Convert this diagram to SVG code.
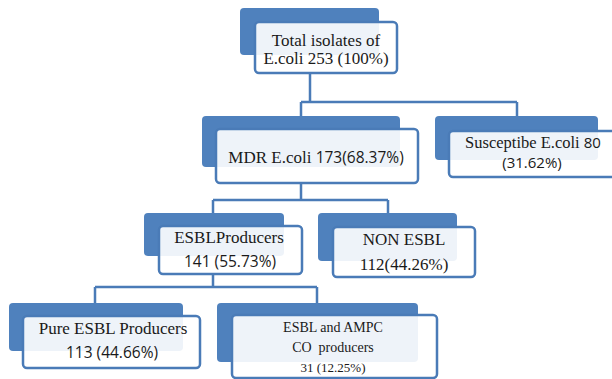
<svg xmlns="http://www.w3.org/2000/svg" width="612" height="379" viewBox="0 0 612 379">
<style>
.back{fill:#4f81bd}
.front{fill:#ffffff;fill-opacity:0.9;stroke:#4a7bb7;stroke-width:2.5}
.conn{fill:none;stroke:#4a7bb7;stroke-width:2.5}
.t{font-family:"Liberation Serif","Times New Roman",serif;fill:#1a1a1a;text-anchor:middle}
.c{font-family:"Open Sans","Liberation Sans",sans-serif;fill:#1a1a1a}
</style>
<rect width="612" height="379" fill="#ffffff"/>
<g id="connectors">
<path class="conn" d="M310,73 V102 M301,102 H517 M301,102 V116 M517,102 V116"/>
<path class="conn" d="M301,183 V200 M213,200 H388 M213,200 V213 M388,200 V213"/>
<path class="conn" d="M213,274 V287 M95,287 H317 M95,287 V303 M317,287 V303"/>
</g>
<g id="total">
<rect class="back" x="240" y="8" width="139" height="47" rx="4"/>
<rect class="front" x="255" y="22" width="142" height="51" rx="4"/>
<text class="t" x="326" y="46" font-size="17">Total isolates of</text>
<text class="t" x="326" y="64" font-size="17">E.coli 253 (100%)</text>
</g>
<g id="mdr">
<rect class="back" x="202" y="116" width="198" height="51" rx="4"/>
<rect class="front" x="216" y="129" width="202" height="54" rx="4"/>
<text class="t" x="316" y="163" font-size="17">MDR E.coli <tspan class="c" font-size="15.5">173(68.37%)</tspan></text>
</g>
<g id="susceptible">
<rect class="back" x="435" y="116" width="163" height="44" rx="4"/>
<rect class="front" x="449" y="131" width="170" height="46" rx="4"/>
<text class="t" x="533" y="148" font-size="16.5">Susceptibe E.coli <tspan class="c" font-size="15">80</tspan></text>
<text class="c" x="532" y="168" font-size="15" text-anchor="middle">(31.62%)</text>
</g>
<g id="esbl">
<rect class="back" x="144" y="213" width="140" height="43" rx="4"/>
<rect class="front" x="159" y="226" width="143" height="48" rx="4"/>
<text class="t" x="229" y="243" font-size="17">ESBLProducers</text>
<text class="c" x="230" y="267" font-size="15.5" text-anchor="middle">141 (55.73%)</text>
</g>
<g id="nonesbl">
<rect class="back" x="318" y="213" width="139" height="48" rx="4"/>
<rect class="front" x="333" y="227" width="142" height="50" rx="4"/>
<text class="t" x="404" y="245" font-size="17">NON ESBL</text>
<text class="t" x="404" y="270" font-size="17">112(44.26%)</text>
</g>
<g id="pure">
<rect class="back" x="9" y="303" width="174" height="48" rx="4"/>
<rect class="front" x="23" y="316" width="177" height="52" rx="4"/>
<text class="t" x="113" y="334" font-size="17">Pure ESBL Producers</text>
<text class="c" x="112" y="358" font-size="15.5" text-anchor="middle">113 (44.66%)</text>
</g>
<g id="ampc">
<rect class="back" x="217" y="303" width="201" height="59" rx="4"/>
<rect class="front" x="232" y="315" width="205" height="63" rx="4"/>
<text class="t" x="333" y="332" font-size="14">ESBL and AMPC</text>
<text class="t" x="333" y="352" font-size="14" xml:space="preserve">CO  producers</text>
<text class="t" x="333" y="372" font-size="13">31 (12.25%)</text>
</g>
</svg>
